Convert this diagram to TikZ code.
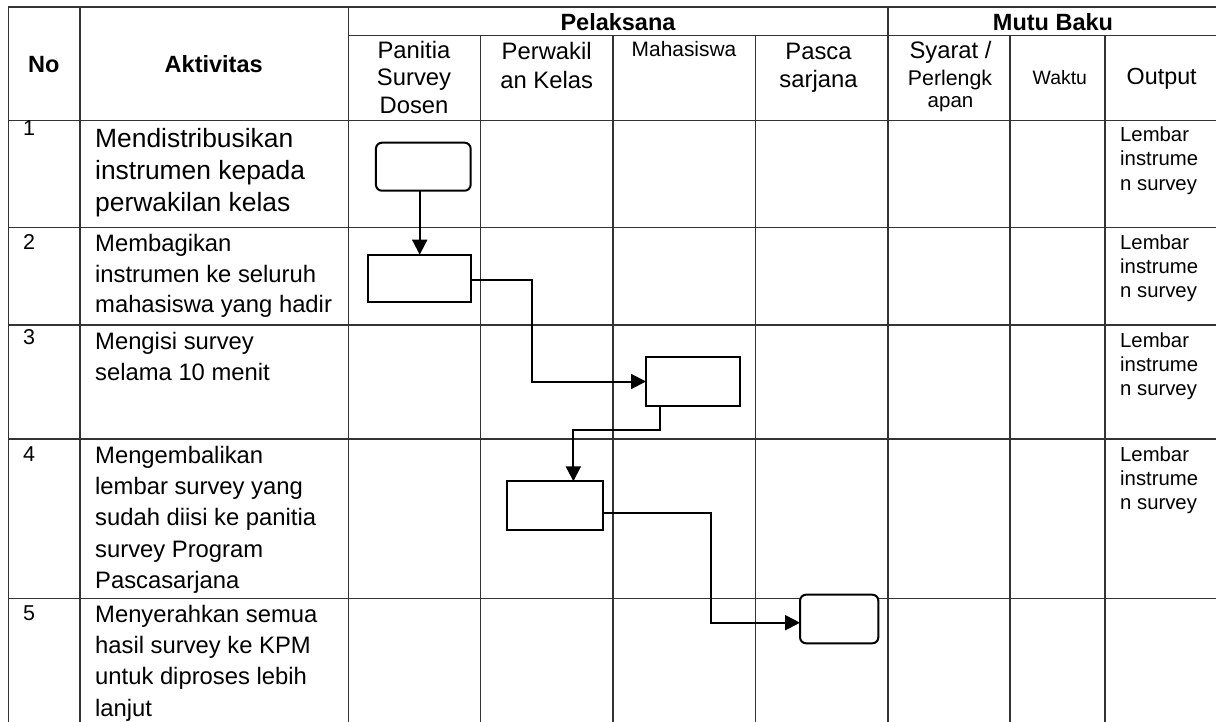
\documentclass[tikz,border=0pt]{standalone}
\usepackage{fontspec}
\setmainfont{Liberation Sans}
\usetikzlibrary{arrows.meta,calc}
\newcommand\fRowOne{\fontsize{26.4}{32}\selectfont}
\newcommand\fRow{\fontsize{23.8}{31}\selectfont}
\newcommand\fOut{\fontsize{20.3}{24}\selectfont}
\newcommand\fNum{\fontsize{21.5}{24}\selectfont}
\newcommand\fHead{\fontsize{23.5}{28}\selectfont\bfseries}
\begin{document}
\begin{tikzpicture}[x=1pt,y=-1pt,
  grid/.style={line width=1.3pt, draw=black!80},
  shp/.style={draw=black, line width=2pt, inner sep=0pt, outer sep=0pt, fill=white},
  rbox/.style={shp, rounded corners=6pt},
  pbox/.style={shp},
  flow/.style={line width=2pt, -{Triangle[length=15pt,width=15pt]}},
  txt/.style={anchor=base west, inner sep=0pt},
  ctr/.style={anchor=base, inner sep=0pt}]
\useasboundingbox (0,0) rectangle (1216,722);
\fill[white] (0,0) rectangle (1216,722);
% grid
\draw[grid] (8.3,7) -- (1216,7);
\draw[grid] (348.3,35.7) -- (1216,35.7);
\foreach \yy in {120.7,227.3,325,439,598.5} \draw[grid] (8.3,\yy) -- (1216,\yy);
\foreach \xx in {8.3,80,348.3,888} \draw[grid] (\xx,7) -- (\xx,722);
\foreach \xx in {480.3,613,755.5,1010,1105} \draw[grid] (\xx,35.7) -- (\xx,722);
% header
\node[ctr,font=\fHead] (hNo) at (43.8,72.6) {No};
\node[ctr,font=\fHead] (hAkt) at (213.7,72.5) {Aktivitas};
\node[ctr,font=\fHead] (hPel) at (618,30.2) {Pelaksana};
\node[ctr,font=\fHead] (hMutu) at (1053,30.2) {Mutu Baku};
\node[ctr,font=\fRow] (hPa1) at (414,58.4) {Panitia};
\node[ctr,font=\fRow] (hPa2) at (414,85.1) {Survey};
\node[ctr,font=\fRow] (hPa3) at (414,113.4) {Dosen};
\node[ctr,font=\fRow] (hPw1) at (546.7,60) {Perwakil};
\node[ctr,font=\fRow] (hPw2) at (546.7,88.3) {an Kelas};
\node[ctr,font=\fontsize{20.9}{24}\selectfont] (hMh) at (684,56.7) {Mahasiswa};
\node[ctr,font=\fRow] (hPs1) at (818.5,60) {Pasca};
\node[ctr,font=\fRow] (hPs2) at (818.5,88) {sarjana};
\node[ctr,font=\fRow] (hSy1) at (950.5,58.3) {Syarat /};
\node[ctr,font=\fontsize{21.3}{24}\selectfont] (hSy2) at (950,86) {Perlengk};
\node[ctr,font=\fontsize{20.5}{24}\selectfont] (hSy3) at (950.5,107.3) {apan};
\node[ctr,font=\fontsize{19.4}{24}\selectfont] (hWk) at (1059.8,85) {Waktu};
\node[ctr,font=\fontsize{23.3}{28}\selectfont] (hOut) at (1161.7,85) {Output};
% numbers
\node[ctr,font=\fNum] (n1) at (29,136) {1};
\node[ctr,font=\fNum] (n2) at (29,249.5) {2};
\node[ctr,font=\fNum] (n3) at (29,344) {3};
\node[ctr,font=\fNum] (n4) at (29,461) {4};
\node[ctr,font=\fNum] (n5) at (29,620.5) {5};
% activities
\node[txt,font=\fRowOne] (a1a) at (95,148) {Mendistribusikan};
\node[txt,font=\fRowOne] (a1b) at (95,180) {instrumen kepada};
\node[txt,font=\fRowOne] (a1c) at (95,212) {perwakilan kelas};
\node[txt,font=\fRow] (a2a) at (95,251.5) {Membagikan};
\node[txt,font=\fRow] (a2b) at (95,282.2) {instrumen ke seluruh};
\node[txt,font=\fRow] (a2c) at (95,312.9) {mahasiswa yang hadir};
\node[txt,font=\fRow] (a3a) at (95,349.3) {Mengisi survey};
\node[txt,font=\fRow] (a3b) at (95,380) {selama 10 menit};
\node[txt,font=\fRow] (a4a) at (95,463.3) {Mengembalikan};
\node[txt,font=\fRow] (a4b) at (95,494.6) {lembar survey yang};
\node[txt,font=\fRow] (a4c) at (95,525.9) {sudah diisi ke panitia};
\node[txt,font=\fRow] (a4d) at (95,557.2) {survey Program};
\node[txt,font=\fRow] (a4e) at (95,588.5) {Pascasarjana};
\node[txt,font=\fRow] (a5a) at (95,622) {Menyerahkan semua};
\node[txt,font=\fRow] (a5b) at (95,653.3) {hasil survey ke KPM};
\node[txt,font=\fRow] (a5c) at (95,684.6) {untuk diproses lebih};
\node[txt,font=\fRow] (a5d) at (95,716) {lanjut};
% outputs
\foreach \yy/\nm in {141.7/o1,249.5/o2,347/o3,461.5/o4}{
  \node[txt,font=\fOut] (\nm a) at (1120,\yy) {Lembar};
  \node[txt,font=\fOut] (\nm b) at (1120,\yy+24.2) {instrume};
  \node[txt,font=\fOut] (\nm c) at (1120,\yy+48.4) {n survey};
}
% flow shapes
\node[rbox,minimum width=94.7pt,minimum height=48pt] (s1) at (423.3,166.7) {};
\node[pbox,minimum width=102.7pt,minimum height=47.6pt] (s2) at (419.7,278.5) {};
\node[pbox,minimum width=94pt,minimum height=48.4pt] (s3) at (693,381.5) {};
\node[pbox,minimum width=95.7pt,minimum height=48.4pt] (s4) at (555.2,505.5) {};
\node[rbox,minimum width=78.3pt,minimum height=48.6pt] (s5) at (839.2,619) {};
% connectors
\draw[flow] (s2.north |- s1.south) -- (s2.north);
\draw[flow] ($(s2.east)+(0,2)$) -| ($(s3.west)+(-113.7,0)$) -- (s3.west);
\draw[flow] ($(s3.south west)+(14,0)$) -- ++(0,24.6) -| ($(s4.north west)+(66,0)$);
\draw[flow] ($(s4.east)+(0,7.5)$) -| ($(s5.west)+(-89,3.7)$) -- ($(s5.west)+(0,3.7)$);
\end{tikzpicture}
\end{document}
